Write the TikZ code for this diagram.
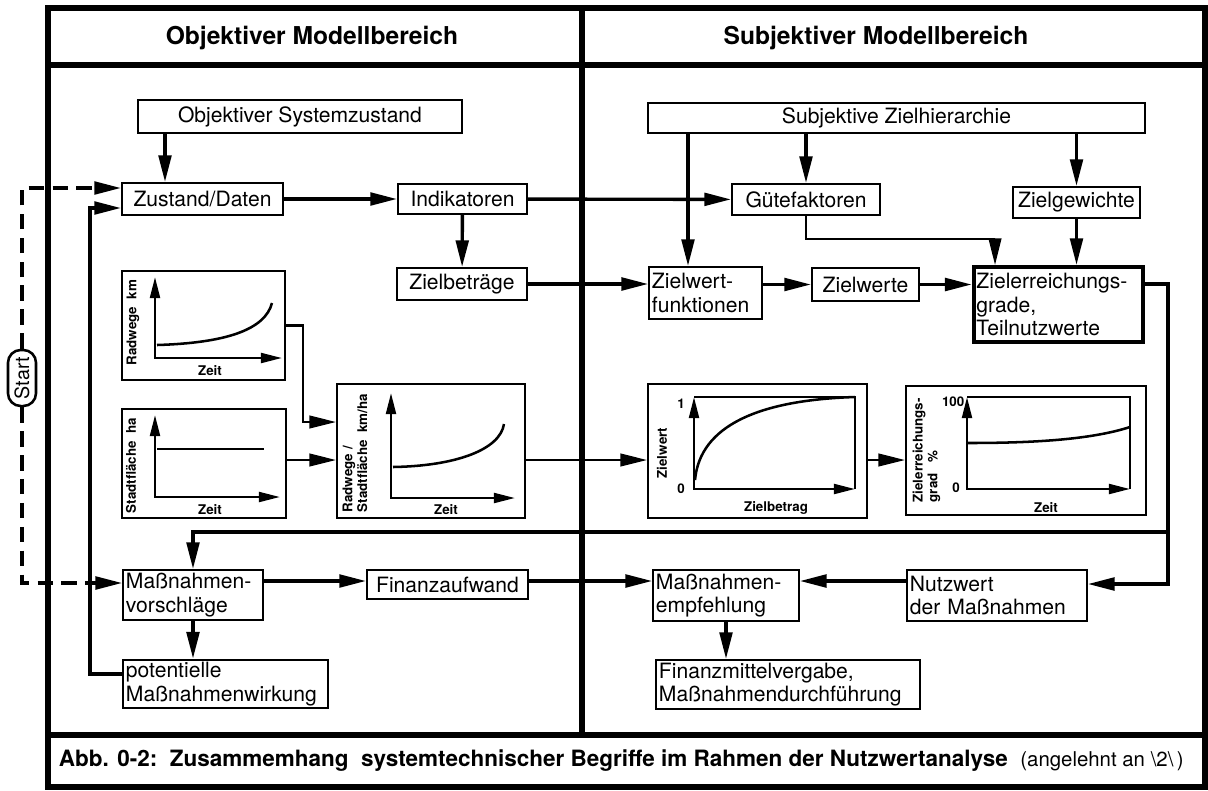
\documentclass[tikz,border=0pt]{standalone}
\usepackage{fontspec}
\setmainfont{TeX Gyre Heros}
\usetikzlibrary{arrows.meta}

\begin{document}
\begin{tikzpicture}[x=0.025cm,y=-0.025cm,
  >={Triangle[length=19pt,width=9pt]},
  every node/.style={font=\fontsize{15}{16.5}\selectfont},
  box/.style={draw,line width=1.4pt,inner sep=2pt},
  mbox/.style={box,align=left},
  chart/.style={draw,line width=1.4pt},
  flow/.style={line width=2.4pt},
  thinflow/.style={line width=1.6pt},
  achse/.style={line width=1.8pt,>={Triangle[length=15pt,width=7pt]}},
  kurve/.style={line width=1.8pt},
  glabel/.style={font=\fontsize{9.5}{10.5}\selectfont\bfseries,inner sep=1pt},
  rahmen/.style={line width=4.2pt},
  titel/.style={font=\fontsize{17.5}{19}\selectfont\bfseries}]
\useasboundingbox (0,0) rectangle (1208,790);

% frame
\draw[rahmen] (48,8) rectangle (1205,787);
\draw[rahmen] (48,65) -- (1205,65);
\draw[rahmen] (48,735) -- (1205,735);
\draw[rahmen] (582,8) -- (582,735);
\node[titel] (obj) at (312,38) {Objektiver Modellbereich};
\node[titel] (subj) at (876,38) {Subjektiver Modellbereich};

% left side
\node[box,minimum width=8.1cm,minimum height=0.825cm] (sys) at (300,116.5) {Objektiver Systemzustand};
\node[box,minimum width=4.025cm,minimum height=0.8cm] (zd) at (202.5,199) {Zustand/Daten};
\node[box,minimum width=3.225cm,minimum height=0.75cm] (ind) at (462.5,199) {Indikatoren};
\node[box,minimum width=3.25cm,minimum height=0.8cm] (zb) at (462,284) {Zielbeträge};
\node[chart,minimum width=4.075cm,minimum height=2.725cm] (g1) at (203.5,325.5) {};
\node[chart,minimum width=4.1cm,minimum height=2.725cm] (g2) at (204,463.5) {};
\node[chart,minimum width=4.7cm,minimum height=3.35cm] (g3) at (431,451) {};
\node[mbox,text width=3.35cm,minimum height=1.25cm] (mv) at (193,595) {Maßnahmen-\\vorschläge};
\node[box,minimum width=4.025cm,minimum height=0.725cm] (fa) at (447.5,584.5) {Finanzaufwand};
\node[mbox,text width=4.975cm,minimum height=1.2cm] (pm) at (225.5,684) {potentielle\\Maßnahmenwirkung};

% right side
\node[box,minimum width=12.425cm,minimum height=0.75cm] (zh) at (896.5,118) {Subjektive Zielhierarchie};
\node[box,minimum width=3.7cm,minimum height=0.775cm] (gf) at (806,199.5) {Gütefaktoren};
\node[box,minimum width=3.175cm,minimum height=0.775cm] (zg) at (1076.5,202.5) {Zielgewichte};
\node[mbox,text width=2.675cm,minimum height=1.3cm] (zwf) at (705.5,293) {Zielwert-\\funktionen};
\node[box,minimum width=2.675cm,minimum height=0.825cm] (zw) at (865.5,284.5) {Zielwerte};
\node[mbox,line width=2.8pt,text width=4.1cm,minimum height=1.875cm] (zeg) at (1058.5,304.5) {Zielerreichungs-\\grade,\\Teilnutzwerte};
\node[chart,minimum width=5.475cm,minimum height=3.35cm] (g4) at (757.5,451) {};
\node[chart,minimum width=6cm,minimum height=3.225cm] (g5) at (1026,450.5) {};
\node[mbox,text width=3.5cm,minimum height=1.275cm] (me) at (726,595.5) {Maßnahmen-\\empfehlung};
\node[mbox,text width=4.35cm,minimum height=1.275cm] (nw) at (997,595.5) {Nutzwert\\der Maßnahmen};
\node[mbox,text width=6.45cm,minimum height=1.225cm] (fmv) at (788,684.5) {Finanzmittelvergabe,\\Maßnahmendurchführung};

\node[draw,line width=1.8pt,rounded corners=9pt,minimum width=0.7cm,minimum height=1.4cm,inner sep=0pt,
  font=\fontsize{14}{15}\selectfont] (start) at (22,378) {\rotatebox{90}{Start}};

% graph contents
\draw[achse,<->] (155,277) -- (155,358) -- (282,358);
\draw[kurve] (157,345) .. controls (225,343) and (265,330) .. (272,303);
\node[glabel,rotate=90,anchor=west] (g1y) at (133,367) {Radwege\ \ km};
\node[glabel] (g1x) at (210,371) {Zeit};

\draw[achse,<->] (155,415) -- (155,497) -- (280,497);
\draw[kurve] (157,449) -- (264,449);
\node[glabel,rotate=90,anchor=west] (g2y) at (131,515) {Stadtfläche\ \ ha};
\node[glabel] (g2x) at (210,510) {Zeit};

\draw[achse,<->] (391,393) -- (391,498) -- (515,498);
\draw[kurve] (393,467) .. controls (455,466) and (500,450) .. (504,424);
\node[glabel,rotate=90,anchor=north west,align=left] (g3y) at (341,514) {Radwege /\\Stadtfläche\ \ km/ha};
\node[glabel] (g3x) at (446,510) {Zeit};

\draw[achse,<->] (694,397) -- (694,489) -- (855,489);
\draw[kurve] (694,397) -- (855,397) -- (855,489);
\draw[kurve] (695,480) .. controls (700,425) and (760,400) .. (855,397);
\node[glabel] (g4a) at (681,404) {1};
\node[glabel] (g4b) at (681,489) {0};
\node[glabel,rotate=90] (g4y) at (662,453) {Zielwert};
\node[glabel] (g4x) at (776,508) {Zielbetrag};

\draw[achse,<->] (967,397) -- (967,489) -- (1130,489);
\draw[kurve] (967,397) -- (1130,397) -- (1130,489);
\draw[kurve] (968,443) .. controls (1030,443) and (1090,440) .. (1130,427);
\node[glabel,anchor=east] (g5a) at (966,402) {100};
\node[glabel] (g5b) at (956,488) {0};
\node[glabel,rotate=90,anchor=north west,align=left] (g5y) at (911,504) {Zielerreichungs-\\grad\ \ \ \%};
\node[glabel] (g5x) at (1046,508) {Zeit};

% help points for the bends
\coordinate (xa) at (165,0);
\coordinate (xb) at (90,0);
\coordinate (xc) at (303,0);
\coordinate (xe) at (688,0);
\coordinate (xg) at (995,0);
\coordinate (xh) at (1168,0);
\coordinate (ya) at (0,188);
\coordinate (yb) at (0,208);
\coordinate (yc) at (0,583);
\coordinate (yd) at (0,239);
\coordinate (ye) at (0,532);
\coordinate (yf) at (0,284);
\coordinate (yg) at (0,584);
\coordinate (yh) at (0,422);
\coordinate (yi) at (0,460);
\coordinate (yj) at (0,674);
\coordinate (yk) at (0,581);

% connectors
\draw[flow,->] (sys.south -| xa) -- (zd.north -| xa);
\draw[flow,->] (zd) -- (ind);
\draw[flow,->] (ind) -- (gf);
\draw[flow,->] (ind) -- (zb);
\draw[flow,->] (zb) -- (zb -| zwf.west);
\draw[flow,->] (zwf.east |- zw) -- (zw);
\draw[flow,->] (zw) -- (zw -| zeg.west);
\draw[flow,->] (zh.south -| xe) -- (zwf.north -| xe);
\draw[flow,->] (zh.south -| gf) -- (gf);
\draw[flow,->] (zh.south -| zg) -- (zg);
\draw[flow,->] (zg) -- (zg |- zeg.north);
\draw[thinflow,->] (gf.south) |- (yd -| xg) -- (zeg.north -| xg);

\draw[thinflow,->] (g1.east) -| (xc |- yh) -- (yh -| g3.west);
\draw[thinflow,->] (g2.east |- yi) -- (yi -| g3.west);
\draw[thinflow,->] (g3.east |- yi) -- (yi -| g4.west);
\draw[thinflow,->] (g4.east |- yi) -- (yi -| g5.west);

\draw[flow,->] (zeg.east |- yf) -| (xh |- yg) -- (nw.east |- yg);
\draw[flow,->] (xh |- ye) -| (mv.north);
\draw[flow,->] (mv.east |- yk) -- (fa.west |- yk);
\draw[flow,->] (fa.east |- yk) -- (me.west |- yk);
\draw[flow,->] (nw.west |- yk) -- (me.east |- yk);
\draw[flow,->] (mv.south) -- (mv.south |- pm.north);
\draw[flow,->] (me.south) -- (me.south |- fmv.north);
\draw[flow,->] (pm.west |- yj) -| (xb |- yb) -- (zd.west |- yb);

\draw[flow,dash pattern=on 11pt off 6pt,->] (start.north) |- (ya -| zd.west);
\draw[flow,dash pattern=on 11pt off 6pt,->] (start.south) |- (yc -| mv.west);

% caption
\node[anchor=west] (cap) at (54,761) {\fontsize{16}{18}\selectfont\bfseries Abb. 0-2:\ \ Zusammemhang\ \ systemtechnischer Begriffe im Rahmen der Nutzwertanalyse\ \ \fontsize{14.5}{16}\selectfont\mdseries(angelehnt an \textbackslash 2\textbackslash\,)};
\end{tikzpicture}
\end{document}
